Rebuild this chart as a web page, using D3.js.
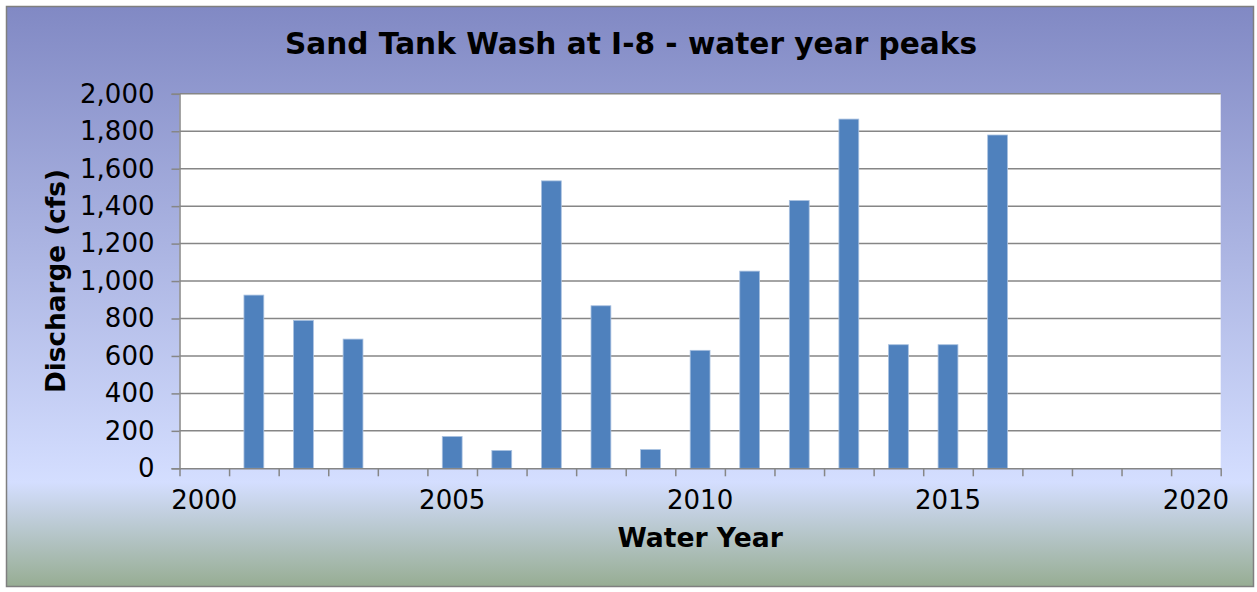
<!DOCTYPE html>
<html>
<head>
<meta charset="utf-8">
<script src="https://cdn.jsdelivr.net/npm/d3@7"></script>
<style>
  html, body { margin: 0; padding: 0; background: #ffffff; }
  svg { display: block; font-family: "DejaVu Sans", sans-serif; }
</style>
</head>
<body>
<div id="chart"></div>
<script>
// Water years shown on the category axis
const years = d3.range(2000, 2021);
// Peak discharge (cfs) per water year, null where there is no bar
const peaks = [null, 925, 790, 690, null, 170, 95, 1535, 868, 100, 630,
               1053, 1430, 1865, 660, 660, 1780, null, null, null, null];
const labelYears = [2000, 2005, 2010, 2015, 2020];
const yTicks = d3.range(0, 2001, 200);

const chartTitle = "Sand Tank Wash at I-8 - water year peaks";
const xTitle = "Water Year";
const yTitle = "Discharge (cfs)";

const data = years.map((y, i) => ({ year: y, value: peaks[i] }))
    .filter(d => d.value !== null);

const width = 1257, height = 592;
const plot = { left: 179.5, right: 1220.7, top: 93.8, bottom: 468.3 };

const svg = d3.select("#chart").append("svg")
    .attr("width", width)
    .attr("height", height);

// Background gradient of the chart area
const grad = svg.append("defs").append("linearGradient")
    .attr("id", "bg").attr("x1", 0).attr("y1", 0).attr("x2", 0).attr("y2", 1);
grad.append("stop").attr("offset", "0%").attr("stop-color", "#8189c4");
grad.append("stop").attr("offset", "82%").attr("stop-color", "#d4deff");
grad.append("stop").attr("offset", "100%").attr("stop-color", "#97ad93");

svg.append("rect")
    .attr("x", 6.5).attr("y", 6.5)
    .attr("width", 1247).attr("height", 580)
    .attr("fill", "url(#bg)")
    .attr("stroke", "#7f7f7f")
    .attr("stroke-width", 1.5);

// Plot area
svg.append("rect")
    .attr("x", plot.left).attr("y", plot.top)
    .attr("width", plot.right - plot.left)
    .attr("height", plot.bottom - plot.top)
    .attr("fill", "#ffffff");

// Scales
const x = d3.scaleBand()
    .domain(years)
    .range([plot.left, plot.right])
    .paddingInner(0.6)
    .paddingOuter(0.3);

const xEdge = d3.scaleLinear()
    .domain([2000, 2021])
    .range([plot.left, plot.right]);

const y = d3.scaleLinear()
    .domain([0, 2000])
    .range([plot.bottom, plot.top]);

// Gridlines
svg.append("g")
    .selectAll("line")
    .data(yTicks.filter(t => t > 0))
    .enter().append("line")
    .attr("x1", plot.left).attr("x2", plot.right)
    .attr("y1", d => y(d)).attr("y2", d => y(d))
    .attr("stroke", "#868686")
    .attr("stroke-width", 1.5);

// Bars
svg.append("g")
    .selectAll("rect")
    .data(data)
    .enter().append("rect")
    .attr("x", d => x(d.year))
    .attr("y", d => y(d.value))
    .attr("width", x.bandwidth())
    .attr("height", d => y(0) - y(d.value))
    .attr("fill", "#4f81bd")
    .attr("stroke", "#a9c1e0")
    .attr("stroke-width", 0.8);

// Y axis
const yAxis = svg.append("g")
    .attr("transform", `translate(${plot.left},0)`)
    .call(d3.axisLeft(y)
        .tickValues(yTicks)
        .tickFormat(d3.format(","))
        .tickSize(8)
        .tickPadding(17));
yAxis.select(".domain").attr("stroke", "#868686").attr("stroke-width", 1.5);
yAxis.selectAll(".tick line").attr("stroke", "#868686").attr("stroke-width", 1.5);
yAxis.selectAll("text").attr("font-size", 26).attr("fill", "#000")
    .attr("font-family", "DejaVu Sans");

// X axis: tick marks at category edges
const xTickAxis = svg.append("g")
    .attr("transform", `translate(0,${plot.bottom})`)
    .call(d3.axisBottom(xEdge)
        .tickValues(d3.range(2000, 2022))
        .tickFormat("")
        .tickSize(8)
        .tickSizeOuter(0));
xTickAxis.select(".domain").attr("stroke", "#868686").attr("stroke-width", 1.5);
xTickAxis.selectAll(".tick line").attr("stroke", "#868686").attr("stroke-width", 1.5);

// X axis labels centred in each category
const xLabelAxis = svg.append("g")
    .attr("transform", `translate(0,${plot.bottom})`)
    .call(d3.axisBottom(x)
        .tickValues(labelYears)
        .tickSize(0)
        .tickPadding(22));
xLabelAxis.select(".domain").remove();
xLabelAxis.selectAll("text").attr("font-size", 26).attr("fill", "#000")
    .attr("font-family", "DejaVu Sans");

// Titles
svg.append("text")
    .attr("x", 631).attr("y", 54)
    .attr("text-anchor", "middle")
    .attr("font-size", 29.6)
    .attr("font-weight", "bold")
    .text(chartTitle);

svg.append("text")
    .attr("x", (plot.left + plot.right) / 2).attr("y", 547)
    .attr("text-anchor", "middle")
    .attr("font-size", 26.6)
    .attr("font-weight", "bold")
    .text(xTitle);

svg.append("text")
    .attr("transform", `translate(65,${(plot.top + plot.bottom) / 2}) rotate(-90)`)
    .attr("text-anchor", "middle")
    .attr("font-size", 26.3)
    .attr("font-weight", "bold")
    .text(yTitle);
</script>
</body>
</html>
